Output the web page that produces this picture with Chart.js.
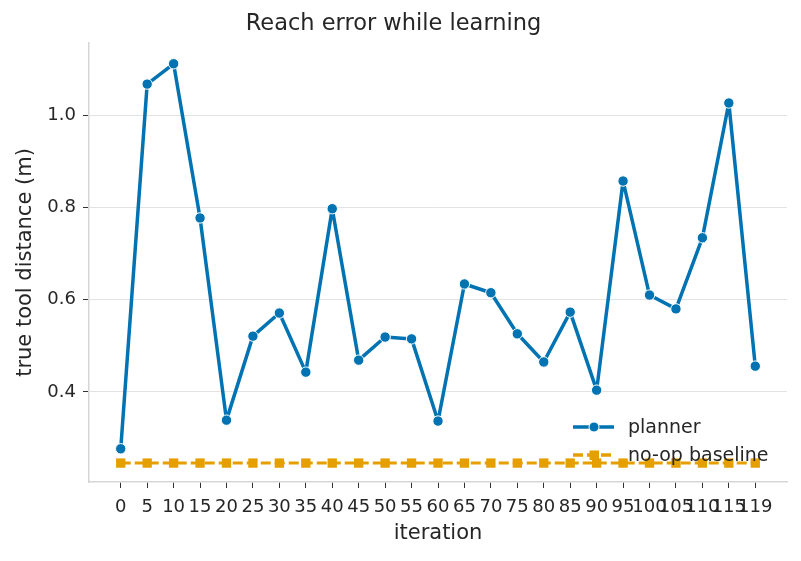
<!DOCTYPE html>
<html>
<head>
<meta charset="utf-8">
<script src="https://cdn.jsdelivr.net/npm/chart.js@4.4.0/dist/chart.umd.min.js"></script>
<style>
  html, body { margin: 0; padding: 0; background: #fff; }
  #wrap { width: 801px; height: 561px; }
</style>
</head>
<body>
<div id="wrap"><canvas id="myChart"></canvas></div>
<script>
// data
const iterations = ["0","5","10","15","20","25","30","35","40","45","50","55","60","65","70","75","80","85","90","95","100","105","110","115","119"];
const planner = [0.277, 1.067, 1.111, 0.777, 0.339, 0.521, 0.571, 0.443, 0.797, 0.469, 0.519, 0.515, 0.337, 0.634, 0.615, 0.526, 0.465, 0.573, 0.404, 0.857, 0.610, 0.580, 0.734, 1.026, 0.456];
const baseline = [0.246, 0.246, 0.246, 0.246, 0.246, 0.246, 0.246, 0.246, 0.246, 0.246, 0.246, 0.246, 0.246, 0.246, 0.246, 0.246, 0.246, 0.246, 0.246, 0.246, 0.246, 0.246, 0.246, 0.246, 0.246];
const yTicks = [0.4, 0.6, 0.8, 1.0];

const blue = "#0173b2";
const orange = "#e69f00";
const txt = "#262626";

Chart.defaults.font.family = "'DejaVu Sans', sans-serif";
Chart.defaults.color = txt;

// legend drawn inside the plot, bottom right
const innerLegend = {
  id: "innerLegend",
  afterDraw(chart) {
    const ctx = chart.ctx;
    const rows = [
      { label: "planner", color: blue, dash: [], shape: "circle", y: 427 },
      { label: "no-op baseline", color: orange, dash: [10, 4], shape: "rect", y: 455 }
    ];
    ctx.save();
    rows.forEach(r => {
      ctx.strokeStyle = r.color;
      ctx.lineWidth = 3.5;
      ctx.setLineDash(r.dash);
      ctx.beginPath();
      ctx.moveTo(573, r.y);
      ctx.lineTo(614, r.y);
      ctx.stroke();
      ctx.setLineDash([]);
      ctx.fillStyle = r.color;
      if (r.shape == "circle") {
        ctx.beginPath();
        ctx.arc(594, r.y, 5, 0, Math.PI * 2);
        ctx.fill();
        ctx.strokeStyle = "#fff";
        ctx.lineWidth = 1;
        ctx.stroke();
      } else {
        ctx.fillRect(589.5, r.y - 4.5, 9.5, 9.5);
      }
      ctx.fillStyle = txt;
      ctx.font = "19px 'DejaVu Sans'";
      ctx.textBaseline = "middle";
      ctx.fillText(r.label, 628, r.y + 1);
    });
    ctx.restore();
  }
};

const ctx = document.getElementById("myChart");

new Chart(ctx, {
  type: "line",
  data: {
    datasets: [
      {
        label: "planner",
        data: planner.map((v, i) => ({ x: i, y: v })),
        borderColor: blue,
        backgroundColor: blue,
        borderWidth: 3.5,
        borderJoinStyle: "round",
        borderCapStyle: "round",
        pointRadius: 5.2,
        pointBorderColor: "#fff",
        pointBorderWidth: 1,
        pointBackgroundColor: blue,
        tension: 0
      },
      {
        label: "no-op baseline",
        data: baseline.map((v, i) => ({ x: i, y: v })),
        borderColor: orange,
        backgroundColor: orange,
        borderWidth: 3,
        borderDash: [10, 4],
        pointStyle: "rect",
        pointRadius: 6.6,
        pointBorderWidth: 0,
        pointBackgroundColor: orange,
        tension: 0
      }
    ]
  },
  options: {
    responsive: true,
    maintainAspectRatio: false,
    animation: false,
    layout: { padding: { top: 0, left: 0, right: 14, bottom: 0 } },
    plugins: {
      legend: { display: false },
      tooltip: { enabled: false },
      title: {
        display: true,
        text: "Reach error while learning",
        color: txt,
        font: { size: 22.5, weight: "normal" },
        padding: { top: 11, bottom: 5 }
      }
    },
    scales: {
      x: {
        type: "linear",
        min: -1.2,
        max: 25.2,
        afterBuildTicks: (scale) => {
          scale.ticks = iterations.map((t, i) => ({ value: i }));
        },
        afterFit: (scale) => { scale.height = 79; },
        ticks: {
          autoSkip: false,
          maxRotation: 0,
          padding: 9,
          font: { size: 18 },
          color: txt,
          callback: (v) => iterations[v]
        },
        grid: { drawOnChartArea: false, tickLength: 6, tickColor: "#333", tickWidth: 1 },
        border: { color: "#d6d6d6", width: 1.5 },
        title: {
          display: true,
          text: "iteration",
          color: txt,
          font: { size: 21 },
          padding: { top: 0, bottom: 14.4 }
        }
      },
      y: {
        min: 0.205,
        max: 1.156,
        afterBuildTicks: (scale) => {
          scale.ticks = yTicks.map(v => ({ value: v }));
        },
        afterFit: (scale) => { scale.width = 89; },
        ticks: {
          padding: 7,
          font: { size: 18 },
          color: txt,
          callback: (v) => v.toFixed(1)
        },
        grid: { color: "#e3e3e3", lineWidth: 1, tickLength: 6, tickColor: "#333" },
        border: { color: "#d6d6d6", width: 1.5 },
        title: {
          display: true,
          text: "true tool distance (m)",
          color: txt,
          font: { size: 21 },
          padding: { top: 13, bottom: 0 }
        }
      }
    }
  },
  plugins: [innerLegend]
});
</script>
</body>
</html>
